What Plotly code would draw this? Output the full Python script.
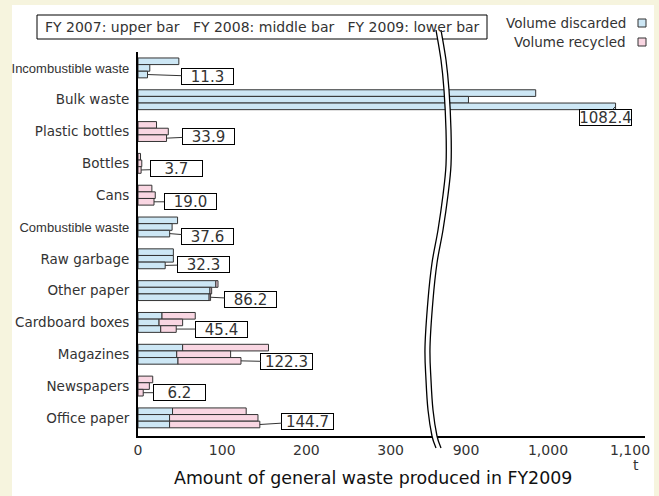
import plotly.graph_objects as go

# ---------------- data ----------------
categories = ["Incombustible waste", "Bulk waste", "Plastic bottles", "Bottles", "Cans",
              "Combustible waste", "Raw garbage", "Other paper", "Cardboard boxes",
              "Magazines", "Newspapers", "Office paper"]
years = ["FY2007", "FY2008", "FY2009"]

discarded_2007 = [48.5, 985.0, 0, 0, 0, 47.0, 42.0, 92.5, 28.5, 53.0, 0, 41.0]
recycled_2007 = [0, 0, 22.0, 3.0, 16.5, 0, 0, 2.5, 39.5, 102.0, 17.5, 87.5]
discarded_2008 = [14.0, 903.0, 0, 0, 0, 40.5, 42.0, 85.5, 25.0, 46.0, 0, 37.5]
recycled_2008 = [0, 0, 36.0, 4.5, 20.5, 0, 0, 2.0, 28.0, 64.0, 13.5, 105.0]
discarded_2009 = [11.3, 1082.4, 0, 0, 0, 37.6, 32.3, 84.5, 27.0, 47.5, 0, 37.5]
recycled_2009 = [0, 0, 33.9, 3.7, 19.0, 0, 0, 1.7, 18.4, 74.8, 6.2, 107.2]
total_2009_labels = [11.3, 1082.4, 33.9, 3.7, 19.0, 37.6, 32.3, 86.2, 45.4, 122.3, 6.2, 144.7]

left_ticks = [0, 100, 200, 300]
right_ticks = [900, 1000, 1100]

# ---------------- styling / layout constants ----------------
W, H = 659, 496
ML, MR, MT, MB = 138, 14, 52, 60
PW, PH = W - ML - MR, H - MT - MB
BREAK_PX = 436
LEFT_RANGE = [0, (BREAK_PX - ML) / 0.842]
RIGHT_RANGE = [1000 - (548 - BREAK_PX) / 0.82, 1000 + (W - MR - 548) / 0.82]
DOM_SPLIT = (BREAK_PX - ML) / PW

BLUE = "#cde7f5"
PINK = "#f9d6e2"
EDGE = "#333333"
TXT = "#333333"
FONT = "DejaVu Sans, Liberation Sans, sans-serif"
NARROW = "Liberation Sans, Arial, sans-serif"
BARGAP = 0.375

def px(x):
    return (x - ML) / PW

def py(y):
    return 1 - (y - MT) / PH

def nz(v):
    return [None if a == 0 else a for a in v]

fig = go.Figure()
series = [(discarded_2007, recycled_2007), (discarded_2008, recycled_2008), (discarded_2009, recycled_2009)]
for xa in ["x", "x2"]:
    for yi, (disc, rec) in enumerate(series):
        fig.add_trace(go.Bar(
            y=categories, x=nz(disc), base=0, orientation="h", offsetgroup=str(yi),
            xaxis=xa, yaxis="y", marker=dict(color=BLUE, line=dict(color=EDGE, width=1)),
            showlegend=False, hoverinfo="skip"))
        fig.add_trace(go.Bar(
            y=categories, x=nz(rec), base=disc, orientation="h", offsetgroup=str(yi),
            xaxis=xa, yaxis="y", marker=dict(color=PINK, line=dict(color=EDGE, width=1)),
            showlegend=False, hoverinfo="skip"))

# value labels (FY2009 totals)
label_offsets = [(60, 2), (-10, 11), (42, -2), (35, -1), (36, 0), (38, 3), (38, -1),
                 (40, 2), (45, 0), (46, 1), (36, 0), (48, -3)]
slot = (1 - BARGAP) / 3
annotations = []
for i, (cat, val) in enumerate(zip(categories, total_2009_labels)):
    ax_, ay_ = label_offsets[i]
    xref = "x2" if val > LEFT_RANGE[1] else "x"
    annotations.append(dict(
        x=val, y=i + slot, xref=xref, yref="y", text=f"{val:.1f}",
        showarrow=True, arrowhead=0, arrowwidth=1, arrowcolor=EDGE, standoff=0,
        ax=ax_, ay=ay_, bordercolor="#000000", borderwidth=1, borderpad=0,
        bgcolor="white", width=51, height=15,
        font=dict(size=15, color=TXT, family=FONT)))

# legend box text
annotations.append(dict(x=px(43), y=py(27), xref="paper", yref="paper", xanchor="left",
                        yanchor="middle", showarrow=False,
                        text="FY 2007: upper bar   FY 2008: middle bar   FY 2009: lower bar",
                        font=dict(size=14, color=TXT, family=FONT)))
annotations.append(dict(x=px(628), y=py(23), xref="paper", yref="paper", xanchor="right",
                        yanchor="middle", showarrow=False, text="Volume discarded",
                        font=dict(size=13.5, color=TXT, family=FONT)))
annotations.append(dict(x=px(628), y=py(42), xref="paper", yref="paper", xanchor="right",
                        yanchor="middle", showarrow=False, text="Volume recycled",
                        font=dict(size=13.5, color=TXT, family=FONT)))
annotations.append(dict(x=px(373), y=py(478), xref="paper", yref="paper", xanchor="center",
                        yanchor="middle", showarrow=False,
                        text="Amount of general waste produced in FY2009",
                        font=dict(size=17.4, color="#111111", family=FONT)))
annotations.append(dict(x=px(636), y=py(465), xref="paper", yref="paper", xanchor="center",
                        yanchor="middle", showarrow=False, text="t",
                        font=dict(size=14, color=TXT, family=FONT)))

# break curve
left_pts = [(436, 30), (441, 60), (444, 90), (446, 130), (446, 165), (443, 195), (438, 230),
            (432, 263), (428, 300), (425, 347), (426, 380), (428, 410), (432, 436), (436, 448)]
GAP = 5

def bez_path(pts, start=True):
    s = ""
    P = [(px(x), py(y)) for x, y in pts]
    if start:
        s += f"M {P[0][0]},{P[0][1]} "
    for k in range(len(P) - 1):
        p0 = P[k - 1] if k > 0 else P[k]
        p1, p2 = P[k], P[k + 1]
        p3 = P[k + 2] if k + 2 < len(P) else P[k + 1]
        c1 = (p1[0] + (p2[0] - p0[0]) / 6, p1[1] + (p2[1] - p0[1]) / 6)
        c2 = (p2[0] - (p3[0] - p1[0]) / 6, p2[1] - (p3[1] - p1[1]) / 6)
        s += f"C {c1[0]},{c1[1]} {c2[0]},{c2[1]} {p2[0]},{p2[1]} "
    return s

right_pts = [(x + GAP, y) for x, y in left_pts]
fill_path = bez_path(left_pts) + f"L {px(right_pts[-1][0])},{py(right_pts[-1][1])} " + \
    bez_path(right_pts[::-1], start=False) + "Z"

shapes = [
    dict(type="rect", xref="paper", yref="paper", x0=px(12), x1=px(654), y0=py(5), y1=py(496),
         fillcolor="white", line=dict(width=0), layer="below"),
    dict(type="rect", xref="paper", yref="paper", x0=px(37), x1=px(487), y0=py(15), y1=py(39),
         line=dict(color="#000000", width=1)),
    dict(type="path", xref="paper", yref="paper", path=fill_path, fillcolor="white",
         line=dict(width=0)),
    dict(type="path", xref="paper", yref="paper", path=bez_path(left_pts),
         line=dict(color="#000000", width=1.3)),
    dict(type="path", xref="paper", yref="paper", path=bez_path(right_pts),
         line=dict(color="#000000", width=1.3)),
    dict(type="rect", xref="paper", yref="paper", x0=px(638), x1=px(646), y0=py(19), y1=py(27),
         fillcolor=BLUE, line=dict(color=EDGE, width=1)),
    dict(type="rect", xref="paper", yref="paper", x0=px(638), x1=px(646), y0=py(38), y1=py(46),
         fillcolor=PINK, line=dict(color=EDGE, width=1)),
]

condensed = {"Incombustible waste", "Combustible waste"}
ticktext = [f'<span style="font-family:{NARROW};font-size:13px">{c}</span>' if c in condensed else c
            for c in categories]

axis_common = dict(showgrid=False, zeroline=False, showline=True, linecolor="#000000",
                   linewidth=2, ticks="", tickfont=dict(size=14, color=TXT, family=FONT),
                   fixedrange=True, automargin=False)

fig.update_layout(
    width=W, height=H, margin=dict(l=ML, r=MR, t=MT, b=MB, pad=0, autoexpand=False),
    paper_bgcolor="#f6f4de", plot_bgcolor="white",
    barmode="group", bargap=BARGAP, bargroupgap=0,
    font=dict(family=FONT, color=TXT),
    xaxis=dict(domain=[0, DOM_SPLIT], range=LEFT_RANGE, tickvals=left_ticks, anchor="y",
               **axis_common),
    xaxis2=dict(domain=[DOM_SPLIT, 1], range=RIGHT_RANGE, tickvals=right_ticks,
                tickformat=",d", anchor="y", **axis_common),
    yaxis=dict(categoryorder="array", categoryarray=categories, autorange="reversed",
               tickvals=categories, ticktext=ticktext, showgrid=False, zeroline=False,
               showline=True, linecolor="#000000", linewidth=2, ticks="",
               tickfont=dict(size=13.5, color=TXT, family=FONT), ticklabelstandoff=4,
               anchor="x", automargin=False, fixedrange=True),
    annotations=annotations, shapes=shapes, showlegend=False,
)

fig.write_html("out.html", config={"displayModeBar": False},
               post_script="document.body.style.margin='0px';")
